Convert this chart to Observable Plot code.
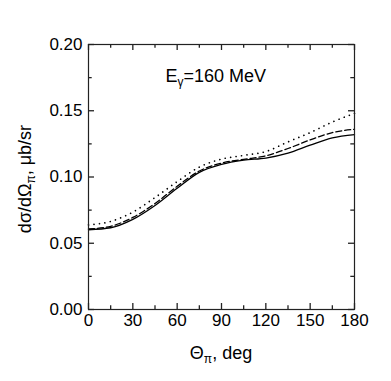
<!DOCTYPE html>
<html>
<head>
<meta charset="utf-8">
<script src="https://cdn.jsdelivr.net/npm/d3@7"></script>
<script src="https://cdn.jsdelivr.net/npm/@observablehq/plot@0.6"></script>
<style>
  html, body { margin: 0; padding: 0; background: #fff; }
  svg { display: block; }
</style>
</head>
<body>
<div id="chart"></div>
<script>
// Data
const theta = [0, 15, 30, 45, 60, 75, 90, 105, 120, 135, 150, 165, 180];
const solidVals  = [0.0602, 0.0617, 0.0680, 0.0785, 0.0915, 0.1035, 0.1095, 0.1127, 0.1143, 0.1180, 0.1240, 0.1295, 0.1320];
const dashedVals = [0.0608, 0.0628, 0.0695, 0.0800, 0.0930, 0.1045, 0.1105, 0.1133, 0.1160, 0.1215, 0.1280, 0.1335, 0.1360];
const dottedVals = [0.0638, 0.0665, 0.0735, 0.0845, 0.0965, 0.1075, 0.1135, 0.1163, 0.1192, 0.1265, 0.1335, 0.1415, 0.1480];

const xMajor = [0, 30, 60, 90, 120, 150, 180];
const xMinor = [15, 45, 75, 105, 135, 165];
const yMajor = [0, 0.05, 0.10, 0.15, 0.20];
const yMinor = [0.025, 0.075, 0.125, 0.175];

const titleText = "E";
const titleSub = "γ";
const titleRest = "=160 MeV";

const W = 391, H = 381;
const mL = 88, mR = 37, mT = 44, mB = 72;
const plotW = W - mL - mR, plotH = H - mT - mB;
const font = "'Liberation Sans', Arial, Helvetica, sans-serif";
const axisColor = "#222";
const xDom = [0, 180], yDom = [0, 0.2];

// tick lengths converted from pixels to data units
const majorPx = 6, minorPx = 3.7;
const xLen = px => (xDom[1] - xDom[0]) * px / plotW;
const yLen = px => (yDom[1] - yDom[0]) * px / plotH;

const series = (vals) => theta.map((t, i) => ({t, v: vals[i]}));

const tickStyle = {stroke: axisColor, strokeWidth: 1.3};

const chart = Plot.plot({
  width: W,
  height: H,
  marginLeft: mL, marginRight: mR, marginTop: mT, marginBottom: mB,
  style: {fontFamily: font, fontSize: "17px", color: "#000", background: "#fff"},
  x: {domain: xDom},
  y: {domain: yDom},
  marks: [
    Plot.line(series(solidVals), {x: "t", y: "v", stroke: "#000", strokeWidth: 1.3, curve: "monotone-x"}),
    Plot.line(series(dashedVals), {x: "t", y: "v", stroke: "#000", strokeWidth: 1.3, strokeDasharray: "6,3", curve: "monotone-x"}),
    Plot.line(series(dottedVals), {x: "t", y: "v", stroke: "#000", strokeWidth: 1.7, strokeDasharray: "0.01,5.5", strokeLinecap: "round", curve: "monotone-x"}),
    // inward ticks, bottom & top
    Plot.ruleX(xMajor, {x: d => d, y1: d => yDom[0], y2: d => yDom[0] + yLen(majorPx), ...tickStyle}),
    Plot.ruleX(xMajor, {x: d => d, y1: d => yDom[1], y2: d => yDom[1] - yLen(majorPx), ...tickStyle}),
    Plot.ruleX(xMinor, {x: d => d, y1: d => yDom[0], y2: d => yDom[0] + yLen(minorPx), ...tickStyle}),
    Plot.ruleX(xMinor, {x: d => d, y1: d => yDom[1], y2: d => yDom[1] - yLen(minorPx), ...tickStyle}),
    // inward ticks, left & right
    Plot.ruleY(yMajor, {y: d => d, x1: d => xDom[0], x2: d => xDom[0] + xLen(majorPx), ...tickStyle}),
    Plot.ruleY(yMajor, {y: d => d, x1: d => xDom[1], x2: d => xDom[1] - xLen(majorPx), ...tickStyle}),
    Plot.ruleY(yMinor, {y: d => d, x1: d => xDom[0], x2: d => xDom[0] + xLen(minorPx), ...tickStyle}),
    Plot.ruleY(yMinor, {y: d => d, x1: d => xDom[1], x2: d => xDom[1] - xLen(minorPx), ...tickStyle}),
    // tick labels
    Plot.axisX({ticks: xMajor, tickSize: 0, tickPadding: 4, label: null, fontSize: 17, tickFormat: d => String(d)}),
    Plot.axisY({ticks: yMajor, tickSize: 0, tickPadding: 6, label: null, fontSize: 17, tickFormat: d3.format(".2f")}),
    Plot.frame({stroke: axisColor, strokeWidth: 1.2})
  ]
});

document.getElementById("chart").appendChild(chart);

const svg = d3.select(chart);

// Title inside plot
const t = svg.append("text")
  .attr("x", 165.5).attr("y", 81.5)
  .attr("text-anchor", "start")
  .attr("font-family", font).attr("font-size", 18).attr("fill", "#000");
t.append("tspan").text(titleText);
t.append("tspan").attr("font-size", 12).attr("dy", 4).text(titleSub);
t.append("tspan").attr("dy", -4).text(titleRest);

// X axis label
const xl = svg.append("text")
  .attr("x", 221).attr("y", 359)
  .attr("text-anchor", "middle")
  .attr("font-family", font).attr("font-size", 18).attr("fill", "#000");
xl.append("tspan").text("Θ");
xl.append("tspan").attr("font-size", 12).attr("dy", 4).text("π");
xl.append("tspan").attr("dy", -4).text(", deg");

// Y axis label
const yl = svg.append("text")
  .attr("transform", "translate(31,179) rotate(-90)")
  .attr("text-anchor", "middle")
  .attr("font-family", font).attr("font-size", 18).attr("fill", "#000");
yl.append("tspan").text("dσ/dΩ");
yl.append("tspan").attr("font-size", 12).attr("dy", 4).text("π");
yl.append("tspan").attr("dy", -4).text(", μb/sr");
</script>
</body>
</html>
